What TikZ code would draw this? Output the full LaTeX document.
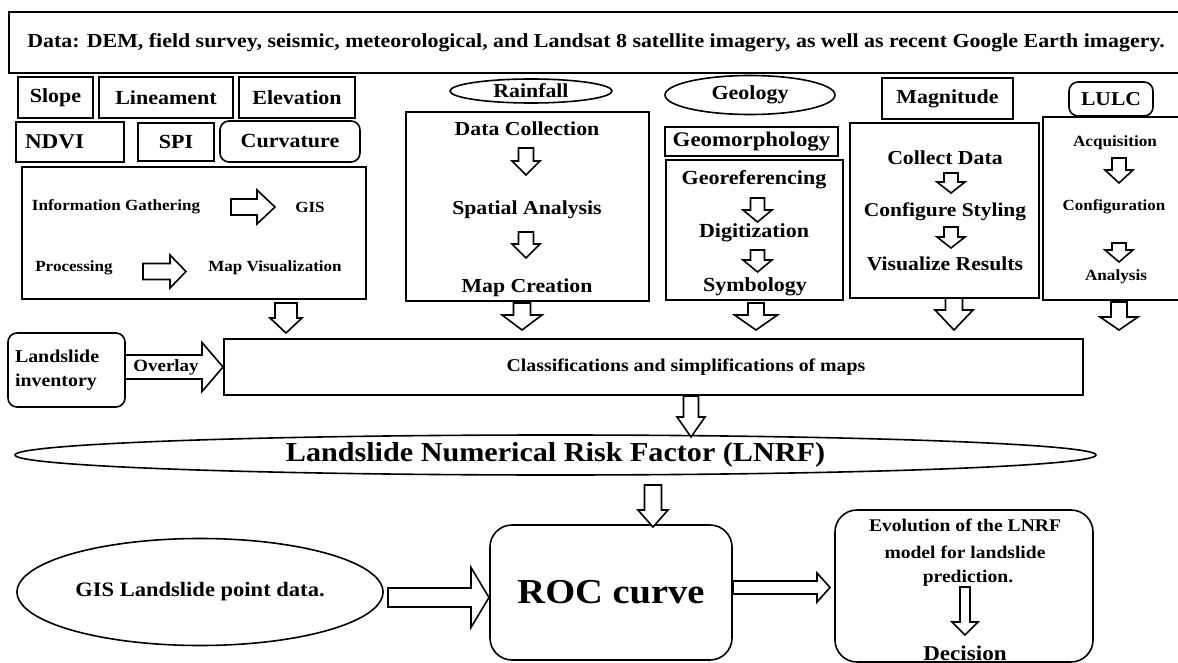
\documentclass[tikz,border=0pt]{standalone}
\usepackage{fontspec}
\setmainfont{Liberation Serif}[FakeStretch=1.1]
\usetikzlibrary{calc,shapes.geometric}

% font size helper (bold serif)
\newcommand\fsz[1]{\fontsize{#1}{#1}\selectfont\bfseries}

% downward block arrow: start, end, shaft half-width, head half-width, head length
\newcommand\downblock[5]{%
  \draw[blockarrow] let \p1=#1, \p2=#2 in
    (\x1-#3,\y1) -- (\x1+#3,\y1) -- (\x1+#3,\y2+#5) -- (\x1+#4,\y2+#5)
    -- (\x1,\y2) -- (\x1-#4,\y2+#5) -- (\x1-#3,\y2+#5) -- cycle;}
% rightward block arrow: start, end, shaft half-width, head half-width, head length
\newcommand\rightblock[5]{%
  \draw[blockarrow] let \p1=#1, \p2=#2 in
    (\x1,\y1+#3) -- (\x2-#5,\y1+#3) -- (\x2-#5,\y1+#4) -- (\x2,\y1)
    -- (\x2-#5,\y1-#4) -- (\x2-#5,\y1-#3) -- (\x1,\y1-#3) -- cycle;}

\tikzset{
  box/.style={draw, line width=1.6pt, fill=white, inner sep=0pt},
  rbox/.style={box, rounded corners=9pt},
  oval/.style={draw, line width=1.6pt, fill=white, ellipse, inner sep=0pt},
  txt/.style={inner sep=0pt},
  blockarrow/.style={draw, line width=1.6pt, fill=white, line join=miter},
}

\begin{document}
\begin{tikzpicture}[x=1pt,y=-1pt]
\useasboundingbox (0,0) rectangle (1178,663);
\fill[white] (0,0) rectangle (1178,663);

% data sources
\node[box, minimum width=1171, minimum height=61] (data) at (594.5,42.5) {};
\node[txt, font=\fsz{19.9}] (datat) at (596,43) {Data: DEM, field survey, seismic, meteorological, and Landsat 8 satellite imagery, as well as recent Google Earth imagery.};

% terrain factors
\node[box, minimum width=75, minimum height=41, font=\fsz{20}] (slope) at (55.5,97.5) {Slope};
\node[box, minimum width=134, minimum height=41, font=\fsz{20}] (lin) at (166,97.5) {Lineament};
\node[box, minimum width=116, minimum height=41, font=\fsz{20}] (elev) at (297,97.5) {Elevation};
\node[box, minimum height=40, text width=90, inner xsep=9, align=left, font=\fsz{21}] (ndvi) at (70,142) {NDVI};
\node[box, minimum width=76, minimum height=38, font=\fsz{20}] (spi) at (176,142) {SPI};
\node[rbox, minimum width=140, minimum height=41, font=\fsz{20}] (curv) at (290,141.5) {Curvature};

% GIS workflow
\node[box, minimum width=344, minimum height=132] (gisbox) at (194,233) {};
\node[txt, font=\fsz{15.5}] (info) at (116,207) {Information Gathering};
\node[txt, font=\fsz{15.5}] (gis) at (310,207) {GIS};
\node[txt, font=\fsz{15.5}] (proc) at (74,268) {Processing};
\node[txt, font=\fsz{15.5}] (mapv) at (275,268) {Map Visualization};
\coordinate (ig1) at (231,207); \coordinate (ig2) at (275,207);
\coordinate (pm1) at (143,271.5); \coordinate (pm2) at (186,271.5);
\rightblock{(ig1)}{(ig2)}{8pt}{17pt}{18pt}
\rightblock{(pm1)}{(pm2)}{8pt}{16.5pt}{16pt}

% rainfall
\node[oval, minimum width=162, minimum height=24, font=\fsz{19.8}] (rain) at (531,91) {Rainfall};
\node[box, minimum width=243, minimum height=189] (rainbox) at (527.5,206.5) {};
\node[txt, font=\fsz{19.8}] (dcol) at (527,129) {Data Collection};
\node[txt, font=\fsz{19.8}] (spat) at (527,210) {Spatial Analysis};
\node[txt, font=\fsz{19.8}] (mapc) at (527,288) {Map Creation};
\coordinate (r1a) at (526,148); \coordinate (r1b) at (526,175);
\coordinate (r2a) at (526,232); \coordinate (r2b) at (526,258);
\downblock{(r1a)}{(r1b)}{7.5pt}{14pt}{14pt}
\downblock{(r2a)}{(r2b)}{7.5pt}{14pt}{14pt}

% geology
\node[oval, minimum width=170, minimum height=39, font=\fsz{20}] (geol) at (750,95) {Geology};
\node[box, minimum width=173, minimum height=29, font=\fsz{20.8}] (geom) at (751.5,141.5) {Geomorphology};
\node[box, minimum width=177, minimum height=140] (geobox) at (754.5,230) {};
\node[txt, font=\fsz{20}] (geor) at (754,180) {Georeferencing};
\node[txt, font=\fsz{20}] (digi) at (754,233) {Digitization};
\node[txt, font=\fsz{20}] (symb) at (755,287) {Symbology};
\coordinate (g1a) at (757.5,198); \coordinate (g1b) at (757.5,222);
\coordinate (g2a) at (757.5,250); \coordinate (g2b) at (757.5,272);
\downblock{(g1a)}{(g1b)}{7pt}{14.5pt}{12pt}
\downblock{(g2a)}{(g2b)}{7pt}{14.5pt}{12pt}

% magnitude
\node[box, minimum width=131, minimum height=41, font=\fsz{19.9}] (magn) at (947.5,98.5) {Magnitude};
\node[box, minimum width=189, minimum height=175] (magbox) at (944.5,210.5) {};
\node[txt, font=\fsz{19.8}] (coll) at (945,158) {Collect Data};
\node[txt, font=\fsz{19.5}] (conf) at (945,212) {Configure Styling};
\node[txt, font=\fsz{19.7}] (visr) at (945,264) {Visualize Results};
\coordinate (m1a) at (951,173); \coordinate (m1b) at (951,193);
\coordinate (m2a) at (951,227); \coordinate (m2b) at (951,248);
\downblock{(m1a)}{(m1b)}{7pt}{14pt}{11pt}
\downblock{(m2a)}{(m2b)}{7pt}{14pt}{11pt}

% land use / land cover
\node[rbox, minimum width=84, minimum height=34, font=\fsz{19.6}] (lulc) at (1111,99) {LULC};
\node[box, minimum width=139, minimum height=183] (lulcbox) at (1112.5,208.5) {};
\node[txt, font=\fsz{15.6}] (acq) at (1115,143) {Acquisition};
\node[txt, font=\fsz{15.4}] (cfg) at (1114,207) {Configuration};
\node[txt, font=\fsz{15.6}] (ana) at (1116,277) {Analysis};
\coordinate (l1a) at (1119,158); \coordinate (l1b) at (1119,183);
\coordinate (l2a) at (1119,243); \coordinate (l2b) at (1119,262);
\downblock{(l1a)}{(l1b)}{7pt}{14pt}{13pt}
\downblock{(l2a)}{(l2b)}{7pt}{14pt}{12pt}

% classification
\node[box, minimum width=859, minimum height=56] (cls) at (653.5,367) {};
\node[txt, font=\fsz{18}] (clst) at (686,367) {Classifications and simplifications of maps};
\node[rbox, minimum height=74, text width=103, inner xsep=7, align=left, font=\fsz{18.1}] (inv) at (66.5,370) {Landslide\\[6pt]inventory};

\coordinate (b1a) at (286,303);  \coordinate (b1b) at (286,333);
\coordinate (b2a) at (522,303);  \coordinate (b2b) at (522,330);
\coordinate (b3a) at (756,303);  \coordinate (b3b) at (756,330);
\coordinate (b4a) at (954,298);  \coordinate (b4b) at (954,330);
\coordinate (b5a) at (1119,302); \coordinate (b5b) at (1119,330);
\downblock{(b1a)}{(b1b)}{11pt}{16pt}{15pt}
\downblock{(b2a)}{(b2b)}{8.5pt}{20pt}{15pt}
\downblock{(b3a)}{(b3b)}{8pt}{21.5pt}{15pt}
\downblock{(b4a)}{(b4b)}{8.5pt}{19pt}{20pt}
\downblock{(b5a)}{(b5b)}{8pt}{19pt}{13pt}

\coordinate (ov1) at (125,367); \coordinate (ov2) at (223,367);
\rightblock{(ov1)}{(ov2)}{12pt}{24.5pt}{21pt}
\node[txt, font=\fsz{17.2}] (ovl) at (166,367) {Overlay};

% LNRF
\node[oval, minimum width=1081, minimum height=40, font=\fsz{27.4}] (lnrf) at (555.5,455) {Landslide Numerical Risk Factor (LNRF)};
\coordinate (c1a) at (691,396); \coordinate (c1b) at (691,437);
\downblock{(c1a)}{(c1b)}{7.5pt}{14pt}{20pt}

% validation
\node[oval, minimum width=366, minimum height=107, font=\fsz{20.5}] (pts) at (200,592) {GIS Landslide point data.};
\node[rbox, rounded corners=22pt, minimum width=242, minimum height=135, font=\fsz{35}] (roc) at (611,592.5) {ROC curve};
\node[rbox, rounded corners=22pt, minimum width=258, minimum height=152] (evo) at (964,586) {};
\node[txt, font=\fsz{17.8}] (evo1) at (965,525) {Evolution of the LNRF};
\node[txt, font=\fsz{17.8}] (evo2) at (965,552) {model for landslide};
\node[txt, font=\fsz{17.8}] (evo3) at (968,578) {prediction.};
\node[txt, font=\fsz{21}] (dec) at (965,653) {Decision};

\coordinate (d1a) at (653,485); \coordinate (d1b) at (653,527);
\downblock{(d1a)}{(d1b)}{8.5pt}{15pt}{17pt}
\coordinate (p1) at (388,597.5); \coordinate (p2) at (489,597.5);
\rightblock{(p1)}{(p2)}{9.5pt}{30pt}{18pt}
\coordinate (e1) at (733,587.5); \coordinate (e2) at (830,587.5);
\rightblock{(e1)}{(e2)}{6.5pt}{14.5pt}{13pt}
\coordinate (x1) at (965,587); \coordinate (x2) at (965,635);
\downblock{(x1)}{(x2)}{5pt}{13pt}{13pt}
\end{tikzpicture}
\end{document}
